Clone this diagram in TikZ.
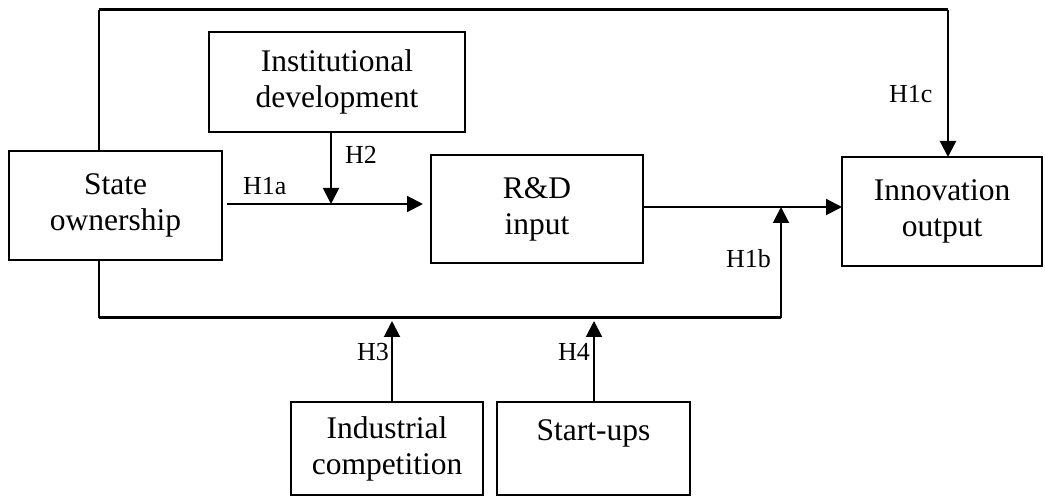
\documentclass[tikz,border=0pt]{standalone}
\usepackage{fontspec}
\setmainfont{Liberation Serif}
\usetikzlibrary{arrows.meta}
\begin{document}
\begin{tikzpicture}[x=1pt,y=-1pt,
  box/.style={draw, line width=2pt, align=center, inner sep=0pt, outer sep=0pt,
              font=\fontsize{31.5}{36}\selectfont},
  lbl/.style={inner sep=0pt, anchor=base west, font=\fontsize{26}{30}\selectfont},
  arr/.style={line width=2pt, -{Triangle[length=16pt,width=16pt]}},
  frame/.style={line width=3pt}]
\useasboundingbox (0,0) rectangle (1045,497);
% boxes
\node[box, minimum width=213pt, minimum height=109pt] (so) at (115.5,205.5) {State\\ownership};
\node[box, minimum width=256pt, minimum height=100pt] (inst) at (337,82) {Institutional\\development};
\node[box, minimum width=212pt, minimum height=108pt] (rd) at (537,209) {R\&D\\input};
\node[box, minimum width=200pt, minimum height=109pt] (io) at (942,211.5) {Innovation\\output};
\node[box, minimum width=192pt, minimum height=93pt] (ic) at (387,448.5) {Industrial\\competition};
\node[box, minimum width=193pt, minimum height=93pt] (su) at (593.5,448.5) {Start-ups\\\mbox{}};
% helper coordinates
\coordinate (tl) at (99,10);
\coordinate (tr) at (948,10);
\coordinate (bl) at (99,318);
\coordinate (br) at (781,318);
\coordinate (ay) at (0,204);
\coordinate (my) at (0,207);
\coordinate (h2x) at (331,0);
\coordinate (h3x) at (392,0);
\coordinate (h4x) at (594,0);
% connectors
\draw[line width=2.4pt] (so.north -| tl) -- (tl);
\draw[frame] (tl) -- (tr);
\draw[arr, line width=2.4pt] (tr) -- (io.north -| tr);
\draw[line width=2.4pt] (so.south -| bl) -- (bl);
\draw[frame] (bl) -- (br);
\draw[arr] (br) -- (br |- my);
\draw[arr, shorten <=5pt, shorten >=8pt] (so.east |- ay) -- (rd.west |- ay);
\draw[arr] (inst.south -| h2x) -- (h2x |- ay);
\draw[arr] (rd.east |- my) -- (io.west |- my);
\draw[arr, shorten >=3pt] (ic.north -| h3x) -- (h3x |- bl);
\draw[arr, shorten >=3pt] (su.north -| h4x) -- (h4x |- bl);
% labels
\node[lbl] (l1a) at (243,195) {H1a};
\node[lbl] (l2) at (345,164) {H2};
\node[lbl] (l1c) at (889,103) {H1c};
\node[lbl] (l1b) at (726,268) {H1b};
\node[lbl] (l3) at (357,360) {H3};
\node[lbl] (l4) at (558,360) {H4};
\end{tikzpicture}
\end{document}
